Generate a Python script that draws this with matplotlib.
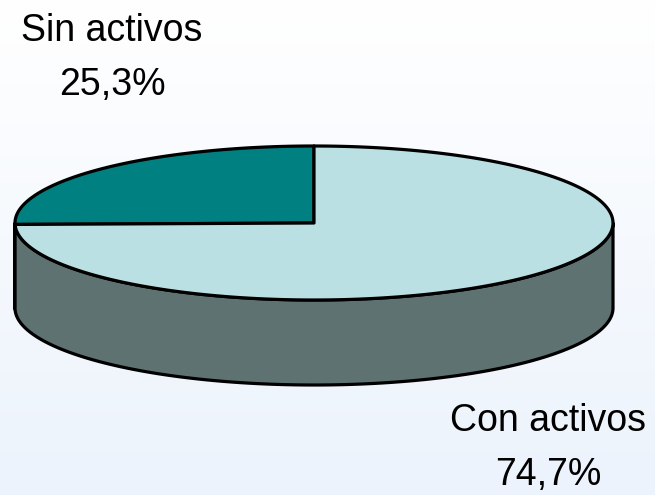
import numpy as np
import matplotlib.pyplot as plt
from matplotlib.patches import Polygon
from matplotlib.colors import LinearSegmentedColormap

plt.rcParams['font.family'] = ['Liberation Sans', 'DejaVu Sans']

# data
labels = ['Sin activos', 'Con activos']
shares = [25.3, 74.7]
top_colors = ['#008080', '#bbe0e3']
side_colors = ['#005a5a', '#5f7272']

# geometry of the 3D pie (pixel units, y grows downwards)
cx, cy = 314, 223
a, b = 299, 77
depth = 85
start = 90.0

fig = plt.figure(figsize=(6.55, 4.95), dpi=100)
ax = fig.add_axes([0, 0, 1, 1])
ax.set_xlim(0, 655)
ax.set_ylim(495, 0)
ax.axis('off')

# soft background gradient
bg = LinearSegmentedColormap.from_list('bg', ['#ffffff', '#ecf3fc'])
ax.imshow(np.linspace(0, 1, 256).reshape(-1, 1), cmap=bg, aspect='auto',
          extent=[0, 655, 495, 0], zorder=0)


def rim(t0, t1, dy=0.0, n=200):
    t = np.radians(np.linspace(t0, t1, n))
    return np.column_stack([cx + a * np.cos(t), cy - b * np.sin(t) + dy])


# slice angle ranges
bounds = []
t = start
for s in shares:
    bounds.append((t, t + s / 100 * 360))
    t += s / 100 * 360

# side walls (visible front half: 180..360)
for (t0, t1), col in zip(bounds, side_colors):
    for off in (0, 360):
        lo = max(t0, 180 + off)
        hi = min(t1, 360 + off)
        if hi > lo:
            top = rim(lo, hi)
            bot = rim(hi, lo, dy=depth)
            ax.add_patch(Polygon(np.vstack([top, bot]), closed=True,
                                 facecolor=col, edgecolor='black', lw=2.3,
                                 joinstyle='round', zorder=2))

# top faces
for (t0, t1), col in zip(bounds, top_colors):
    pts = np.vstack([[cx, cy], rim(t0, t1)])
    ax.add_patch(Polygon(pts, closed=True, facecolor=col, edgecolor='black',
                         lw=2.3, joinstyle='round', zorder=3))

# labels
ax.text(112, 31, labels[0], ha='center', va='center', fontsize=27)
ax.text(112, 85, f'{shares[0]:.1f}%'.replace('.', ','), ha='center',
        va='center', fontsize=27)
ax.text(548, 421, labels[1], ha='center', va='center', fontsize=27)
ax.text(548, 475, f'{shares[1]:.1f}%'.replace('.', ','), ha='center',
        va='center', fontsize=27)

fig.savefig('out.png', dpi=100)
